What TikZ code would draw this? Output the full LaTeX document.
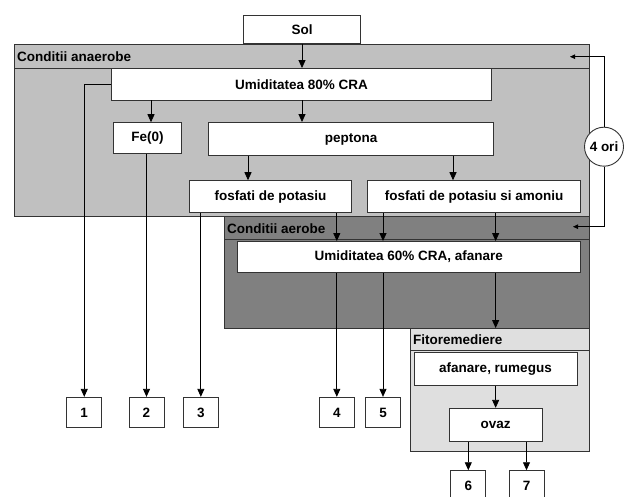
\documentclass[tikz,border=0pt]{standalone}
\usepackage{fontspec}
\setmainfont{Liberation Sans}
\usetikzlibrary{arrows.meta,calc}
\definecolor{cA}{HTML}{C0C0C0}
\definecolor{cB}{HTML}{808080}
\definecolor{cC}{HTML}{DFDFDF}
\begin{document}
\begin{tikzpicture}[x=1pt,y=-1pt,
  font=\fontsize{13.5}{16}\selectfont\bfseries,
  frame/.style={draw=black!80,line width=0.9pt},
  area/.style={frame,inner sep=0pt},
  box/.style={frame,fill=white,inner sep=0pt},
  num/.style={box,minimum width=35pt,minimum height=30.4pt},
  hdr/.style={anchor=west,inner sep=0pt},
  conn/.style={draw=black,line width=0.8pt},
  arr/.style={conn,-{Triangle[length=8pt,width=7pt]}},
  sarr/.style={conn,-{Triangle[length=5pt,width=4.5pt]}}]
\clip (0,0) rectangle (626,497);
% containers
\node[area,fill=cA,minimum width=574.5pt,minimum height=172pt] (anaer) at (301.75,130) {};
\node[area,fill=cB,minimum width=364.5pt,minimum height=112pt] (aer) at (406.75,272.5) {};
\node[area,fill=cC,minimum width=178.5pt,minimum height=122.5pt] (fito) at (499.75,389.75) {};
\draw[frame] ($(anaer.north west)+(0,25)$) -- ($(anaer.north east)+(0,25)$);
\draw[frame] ($(aer.north west)+(0,23.5)$) -- ($(aer.north east)+(0,23.5)$);
\draw[frame] ($(fito.north west)+(0,22)$) -- ($(fito.north east)+(0,22)$);
\node[hdr] (hA) at (17,57) {Conditii anaerobe};
\node[hdr] (hB) at (227,228.5) {Conditii aerobe};
\node[hdr] (hC) at (413,339.5) {Fitoremediere};
% boxes
\node[box,minimum width=117pt,minimum height=28.5pt] (sol) at (302,29.25) {Sol};
\node[box,minimum width=379.8pt,minimum height=31.5pt] (u80) at (301.6,84.25) {Umiditatea 80\% CRA};
\node[box,minimum width=68.4pt,minimum height=30.6pt] (fe) at (147.5,138) {Fe(0)};
\node[box,minimum width=285pt,minimum height=33pt] (pep) at (351,139) {peptona};
\node[box,minimum width=162.5pt,minimum height=32pt] (fk) at (270.45,196.7) {fosfati de potasiu};
\node[box,minimum width=213pt,minimum height=32pt] (fkn) at (474.2,196.7) {fosfati de potasiu si amoniu};
\node[box,minimum width=343pt,minimum height=31.2pt] (u60) at (408.8,257.1) {Umiditatea 60\% CRA, afanare};
\node[box,minimum width=163pt,minimum height=33.4pt] (afa) at (495.5,369) {afanare, rumegus};
\node[box,minimum width=93.3pt,minimum height=33.4pt] (ovaz) at (495.65,425) {ovaz};
\node[num] (b1) at (84.25,412.5) {1};
\node[num] (b2) at (146.5,412.5) {2};
\node[num] (b3) at (200.85,412.5) {3};
\node[num] (b4) at (336.8,412.5) {4};
\node[num] (b5) at (383,412.5) {5};
\node[num] (b6) at (468.3,485.9) {6};
\node[num] (b7) at (526.5,485.9) {7};
\node[frame,fill=white,circle,minimum size=39pt,inner sep=0pt] (ori) at (604,146.7) {4 ori};
% x positions
\coordinate (xfe) at (151,0);
\coordinate (xk) at (248,0);
\coordinate (xkn) at (453,0);
\coordinate (fbtop) at (570,56.7);
\coordinate (fbbot) at (573,226.7);
% connectors
\draw[arr] (sol.south) -- (u80.north -| sol.south);
\draw[arr] (u80.south -| xfe) -- (fe.north -| xfe);
\draw[arr] (u80.south -| sol.south) -- (pep.north -| sol.south);
\draw[arr] (pep.south -| xk) -- (fk.north -| xk);
\draw[arr] (pep.south -| xkn) -- (fkn.north -| xkn);
\draw[arr] (u80.west) -| (b1.north);
\draw[arr] (fe.south -| b2.north) -- (b2.north);
\draw[arr] (fk.south -| b3.north) -- (b3.north);
\draw[arr] (fk.south -| b4.north) -- (u60.north -| b4.north);
\draw[arr] (fkn.south -| b5.north) -- (u60.north -| b5.north);
\draw[arr] (fkn.south -| ovaz.north) -- (u60.north -| ovaz.north);
\draw[arr] (u60.south -| b4.north) -- (b4.north);
\draw[arr] (u60.south -| b5.north) -- (b5.north);
\draw[arr] (u60.south -| ovaz.north) -- (fito.north -| ovaz.north);
\draw[arr] (afa.south -| ovaz.north) -- (ovaz.north);
\draw[arr] (ovaz.south -| b6.north) -- (b6.north);
\draw[arr] (ovaz.south -| b7.north) -- (b7.north);
\draw[sarr] (ori.north) |- (fbtop);
\draw[sarr] (ori.south) |- (fbbot);
\end{tikzpicture}
\end{document}
